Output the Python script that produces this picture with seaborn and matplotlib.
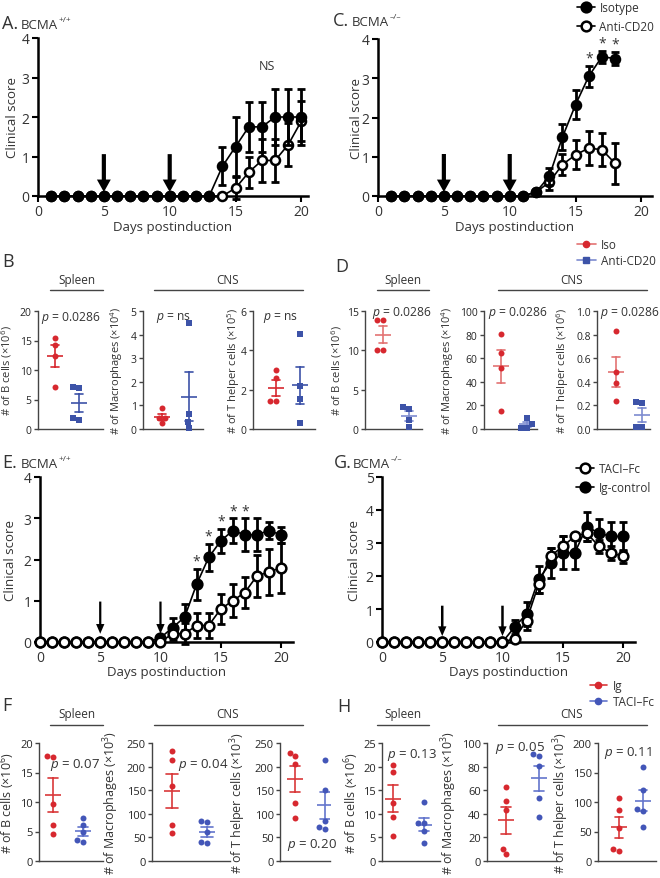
import numpy as np
import pandas as pd
import matplotlib

matplotlib.use("Agg")
import matplotlib.pyplot as plt
from matplotlib.lines import Line2D
import seaborn as sns

sns.set_theme(style="ticks")
plt.rcParams["font.family"] = ["Open Sans", "DejaVu Sans"]
plt.rcParams.update({
    "mathtext.fontset": "custom",
    "mathtext.rm": "Open Sans",
    "mathtext.it": "Open Sans:italic",
    "mathtext.bf": "Open Sans:bold",
    "text.color": "#333333",
    "axes.labelcolor": "#333333",
})

# ---- clinical score time courses ----
injection_days = [5, 10]

days_a = [1, 2, 3, 4, 5, 6, 7, 8, 9, 10, 11, 12, 13, 14, 15, 16, 17, 18, 19, 20]
a_iso = [0, 0, 0, 0, 0, 0, 0, 0, 0, 0, 0, 0, 0, 0.75, 1.25, 1.75, 1.75, 2.0, 2.0, 2.0]
a_iso_sem = [0, 0, 0, 0, 0, 0, 0, 0, 0, 0, 0, 0, 0, 0.48, 0.75, 0.63, 0.63, 0.7, 0.7, 0.7]
a_cd20 = [0, 0, 0, 0, 0, 0, 0, 0, 0, 0, 0, 0, 0, 0, 0.2, 0.6, 0.9, 0.9, 1.3, 1.9]
a_cd20_sem = [0, 0, 0, 0, 0, 0, 0, 0, 0, 0, 0, 0, 0, 0, 0.27, 0.4, 0.55, 0.55, 0.55, 0.5]

days_c = [1, 2, 3, 4, 5, 6, 7, 8, 9, 10, 11, 12, 13, 14, 15, 16, 17, 18]
c_iso = [0, 0, 0, 0, 0, 0, 0, 0, 0, 0, 0, 0.1, 0.5, 1.5, 2.33, 3.05, 3.55, 3.5]
c_iso_sem = [0, 0, 0, 0, 0, 0, 0, 0, 0, 0, 0, 0.05, 0.22, 0.33, 0.38, 0.27, 0.15, 0.17]
c_cd20 = [0, 0, 0, 0, 0, 0, 0, 0, 0, 0, 0, 0.1, 0.35, 0.8, 1.05, 1.22, 1.18, 0.83]
c_cd20_sem = [0, 0, 0, 0, 0, 0, 0, 0, 0, 0, 0, 0.05, 0.2, 0.27, 0.37, 0.43, 0.42, 0.53]
c_star_days = [16, 17, 18]

days_e = [0, 1, 2, 3, 4, 5, 6, 7, 8, 9, 10, 11, 12, 13, 14, 15, 16, 17, 18, 19, 20]
e_ig = [0, 0, 0, 0, 0, 0, 0, 0, 0, 0, 0.1, 0.35, 0.6, 1.4, 2.05, 2.45, 2.7, 2.6, 2.6, 2.7, 2.6]
e_ig_sem = [0, 0, 0, 0, 0, 0, 0, 0, 0, 0, 0.05, 0.22, 0.32, 0.38, 0.33, 0.3, 0.3, 0.4, 0.4, 0.2, 0.2]
e_taci = [0, 0, 0, 0, 0, 0, 0, 0, 0, 0, 0, 0.2, 0.2, 0.4, 0.4, 0.8, 1.0, 1.2, 1.6, 1.7, 1.8]
e_taci_sem = [0, 0, 0, 0, 0, 0, 0, 0, 0, 0, 0, 0.15, 0.25, 0.3, 0.3, 0.36, 0.4, 0.38, 0.5, 0.55, 0.6]
e_star_days = [13, 14, 15, 16, 17]

days_g = [0, 1, 2, 3, 4, 5, 6, 7, 8, 9, 10, 11, 12, 13, 14, 15, 16, 17, 18, 19, 20]
g_ig = [0, 0, 0, 0, 0, 0, 0, 0, 0, 0, 0, 0.45, 0.85, 1.9, 2.4, 2.7, 2.7, 3.5, 3.3, 3.2, 3.2]
g_ig_sem = [0, 0, 0, 0, 0, 0, 0, 0, 0, 0, 0, 0.22, 0.35, 0.4, 0.45, 0.5, 0.5, 0.45, 0.42, 0.45, 0.45]
g_taci = [0, 0, 0, 0, 0, 0, 0, 0, 0, 0, 0, 0.1, 0.65, 1.75, 2.6, 2.9, 3.2, 3.3, 2.9, 2.7, 2.6]
g_taci_sem = [0, 0, 0, 0, 0, 0, 0, 0, 0, 0, 0, 0.05, 0.3, 0.25, 0.25, 0.3, 0.1, 0.25, 0.2, 0.2, 0.2]

# ---- cell counts ----
groups_bd = ["Iso", "Anti-CD20"]
b_bcell_iso = [15.5, 14.3, 12.4, 7.2]
b_bcell_cd20 = [7.0, 7.1, 1.6, 1.8]
b_mac_iso = [0.88, 0.45, 0.45, 0.24]
b_mac_cd20 = [4.5, 0.65, 0.3, 0.05]
b_th_iso = [3.0, 2.58, 1.4, 1.4]
b_th_cd20 = [4.84, 2.2, 1.52, 0.3]

d_bcell_iso = [13.9, 13.9, 10.1, 10.1]
d_bcell_cd20 = [2.6, 2.75, 1.1, 0.2]
d_mac_iso = [80.5, 64.5, 52, 15]
d_mac_cd20 = [9.0, 4.5, 1.2, 1.0]
d_th_iso = [0.83, 0.48, 0.39, 0.24]
d_th_cd20 = [0.22, 0.23, 0.02, 0.02]

groups_fh = ["Ig", "TACI–Fc"]
f_bcell_ig = [17.85, 17.7, 9.6, 6.1, 4.65]
f_bcell_taci = [7.25, 6.06, 5.0, 3.2, 3.5]
f_mac_ig = [233.7, 213.9, 159, 76, 59]
f_mac_taci = [85, 82, 62, 38, 40]
f_th_ig = [229, 222, 205, 122, 92]
f_th_taci = [215, 150, 85, 72, 68]

h_bcell_ig = [20.3, 18.8, 12.2, 9.4, 5.3]
h_bcell_taci = [12.4, 8.0, 8.0, 6.4, 3.75]
h_mac_ig = [62.3, 51, 43, 9.9, 5.7]
h_mac_taci = [90.7, 89.2, 80.7, 53, 37.7]
h_th_ig = [106, 86, 56.7, 19.8, 17]
h_th_taci = [160, 120, 88, 84, 58]

RED = "#d7282f"
BLUE = "#3d53a8"
BLUE_DOT = "#4356b8"
GRAY = "#444444"

W, H = 660, 879
fig = plt.figure(figsize=(W / 100, H / 100), dpi=100)


def px_axes(l, t, r, b):
    return fig.add_axes([l / W, 1 - b / H, (r - l) / W, (b - t) / H])


def ftext(x, y, s, **kw):
    return fig.text(x / W, 1 - y / H, s, **kw)


def hline(x0, x1, y):
    fig.add_artist(Line2D([x0 / W, x1 / W], [1 - y / H, 1 - y / H], color=GRAY, lw=1))


def panel_title(ax, x, y, letter, sup):
    ftext(x, y, letter, fontsize=13, va="baseline")
    t = ftext(x + 19, y, "BCMA", fontsize=9.5, va="baseline")
    ax.annotate(sup, xy=(1.02, 0.6), xycoords=t, fontsize=6, va="bottom",
                ha="left", annotation_clip=False)


def course(box, days, filled, filled_sem, hollow, hollow_sem, ymax, stars,
           arrow, hollow_on_top, ms, label_px):
    l, t, r, b, xmax = box
    ax = px_axes(l, t, r, b)
    z_fill, z_hollow = (3, 4) if hollow_on_top else (4, 3)
    for mean, sem, face, z in [(filled, filled_sem, "black", z_fill),
                               (hollow, hollow_sem, "white", z_hollow)]:
        df = pd.DataFrame({"day": days, "score": mean, "sem": sem})
        sns.lineplot(data=df, x="day", y="score", color="black", linewidth=1.2,
                     marker="o", markersize=ms, markerfacecolor=face,
                     markeredgecolor="black", markeredgewidth=1.8, zorder=z,
                     clip_on=False, ax=ax)
        bars = df[df["sem"] > 0]
        ax.errorbar(bars["day"], bars["score"], yerr=bars["sem"], fmt="none",
                    ecolor="black", elinewidth=2, capsize=3, capthick=2,
                    zorder=z - 0.5, clip_on=False)
    top, tip, w, hw, hl = arrow
    for d in injection_days:
        ax.annotate("", xy=(d, tip), xytext=(d, top),
                    arrowprops=dict(facecolor="black", edgecolor="black", width=w,
                                    headwidth=hw, headlength=hl, shrink=0, lw=0))
    for d in stars:
        i = days.index(d)
        ax.text(d, filled[i] + filled_sem[i] + 0.0, "*", ha="center",
                va="bottom", fontsize=10)
    ax.set_xlim(0, xmax)
    ax.set_ylim(0, ymax)
    ax.set_xticks([0, 5, 10, 15, 20])
    ax.set_yticks(range(ymax + 1))
    sns.despine(ax=ax)
    for s in ("left", "bottom"):
        ax.spines[s].set_linewidth(1.8)
        ax.spines[s].set_color("black")
    ax.tick_params(width=1.5, length=4, labelsize=10, labelcolor="#333333",
                   color="black", pad=2)
    ax.set_xlabel("Days postinduction", fontsize=9.5)
    ax.set_ylabel("Clinical score", fontsize=9.5)
    ax.xaxis.set_label_coords(0.5, -(label_px[1] - b) / (b - t))
    ax.yaxis.set_label_coords((label_px[0] - l) / (r - l), 0.5)
    return ax


def dots(box, tb, v1, v2, names, dot_colors, line_colors, markers, ymax, ystep,
         ylabel, ptext, ppos, label_x, fs):
    l, r, red_px, blue_px = box
    t, b = tb
    tick_fs, lab_fs, p_fs = fs
    ax = px_axes(l, t, r, b)
    df = pd.DataFrame({"group": [names[0]] * len(v1) + [names[1]] * len(v2),
                       "value": list(v1) + list(v2)})
    sns.pointplot(data=df, x="group", y="value", hue="group", order=names,
                  hue_order=names, palette=line_colors, errorbar="se",
                  capsize=0.32, markers="_", linestyles="none", markersize=12,
                  markeredgewidth=1.2, err_kws={"linewidth": 1.2}, legend=False,
                  ax=ax)
    for name, col, mk in zip(names, dot_colors, markers):
        sns.swarmplot(data=df[df["group"] == name], x="group", y="value",
                      order=names, color=col, marker=mk, size=4.3, linewidth=0,
                      zorder=4, clip_on=False, ax=ax)
    unit = blue_px - red_px
    ax.set_xlim(-red_px / unit, (r - l - red_px) / unit)
    ax.set_ylim(0, ymax)
    ax.set_yticks(np.arange(0, ymax + ystep / 2, ystep))
    ax.set_xticks([])
    ax.set_xlabel("")
    sns.despine(ax=ax)
    for s in ("left", "bottom"):
        ax.spines[s].set_linewidth(1)
        ax.spines[s].set_color(GRAY)
    ax.tick_params(axis="y", length=3, width=1, color=GRAY, labelsize=tick_fs, pad=1.5)
    ax.set_ylabel(ylabel, fontsize=lab_fs)
    ax.yaxis.set_label_coords((label_x - l) / (r - l), 0.5)
    ax.text(ppos[0], ppos[1], ptext, transform=ax.transAxes, fontsize=p_fs,
            ha="left", va="center")
    return ax


# ---- A ----
ax_a = course((38, 39, 308, 197, 20.5), days_a, a_iso, a_iso_sem, a_cd20, a_cd20_sem,
              4, [], (1.06, 0.1, 3, 10, 9), False, 6.5, (19, 221))
ax_a.text(17.4, 3.3, "NS", ha="center", va="center", fontsize=9)
panel_title(ax_a, 2, 29, "A.", "+/+")

# ---- C ----
ax_c = course((378, 40, 652, 197, 20.8), days_c, c_iso, c_iso_sem, c_cd20, c_cd20_sem,
              4, c_star_days, (1.07, 0.1, 3, 10, 9), False, 6.5, (363, 221))
panel_title(ax_c, 333, 26, "C.", "–/–")
fig.legend(handles=[Line2D([], [], color="black", lw=1.2, marker="o", ms=7,
                           mfc="black", mec="black", mew=1.8),
                    Line2D([], [], color="black", lw=1.2, marker="o", ms=7,
                           mfc="white", mec="black", mew=1.8)],
           labels=["Isotype", "Anti-CD20"], loc="upper left",
           bbox_to_anchor=(577 / W, 1 - 2 / H), frameon=False, fontsize=8.5,
           handlelength=1.5, handletextpad=0.4, labelspacing=0.5, borderpad=0,
           borderaxespad=0)

# ---- E ----
ax_e = course((40, 478, 293, 643, 21), days_e, e_ig, e_ig_sem, e_taci, e_taci_sem,
              4, e_star_days, (0.98, 0.2, 1.6, 6, 7), True, 7, (17, 666))
panel_title(ax_e, 2, 468, "E.", "+/+")

# ---- G ----
ax_g = course((382, 478, 635, 643, 21), days_g, g_ig, g_ig_sem, g_taci, g_taci_sem,
              5, [], (1.1, 0.18, 1.8, 6, 7), True, 7, (361, 666))
panel_title(ax_g, 334, 468, "G.", "–/–")
fig.legend(handles=[Line2D([], [], color="black", lw=1.2, marker="o", ms=7,
                           mfc="white", mec="black", mew=1.8),
                    Line2D([], [], color="black", lw=1.2, marker="o", ms=7,
                           mfc="black", mec="black", mew=1.8)],
           labels=["TACI–Fc", "Ig-control"], loc="upper left",
           bbox_to_anchor=(576 / W, 1 - 463 / H), frameon=False, fontsize=8.5,
           handlelength=1.5, handletextpad=0.4, labelspacing=0.55, borderpad=0,
           borderaxespad=0)

# ---- B ----
row_bd = (312, 430)
bd_cols = [RED, BLUE]
bd_marks = ["o", "s"]
bd_fs = (7.5, 8, 8.7)
dots((38, 103, 17, 41), row_bd, b_bcell_iso, b_bcell_cd20, groups_bd, bd_cols, bd_cols,
     bd_marks, 20, 5, "# of B cells (×10$^{6}$)", "$p$ = 0.0286", (0.05, 0.95), 14, bd_fs)
dots((143, 203, 19, 46), row_bd, b_mac_iso, b_mac_cd20, groups_bd, bd_cols, bd_cols,
     bd_marks, 5, 1, "# of Macrophages (×10$^{4}$)", "$p$ = ns", (0.22, 0.95), 125, bd_fs)
dots((253, 315, 23, 47), row_bd, b_th_iso, b_th_cd20, groups_bd, bd_cols, bd_cols,
     bd_marks, 6, 2, "# of T helper cells (×10$^{5}$)", "$p$ = ns", (0.16, 0.95), 242,
     bd_fs)
ftext(2, 267, "B", fontsize=13, va="baseline")
ftext(77, 284, "Spleen", fontsize=8.5, ha="center", va="baseline")
ftext(228, 284, "CNS", fontsize=8.5, ha="center", va="baseline")
hline(50, 103, 291)
hline(154, 303, 291)

# ---- D ----
d_lines = ["#e37373", "#7d8bd0"]
dots((365, 422, 18, 44), row_bd, d_bcell_iso, d_bcell_cd20, groups_bd, bd_cols,
     d_lines, bd_marks, 15, 5, "# of B cells (×10$^{6}$)", "$p$ = 0.0286",
     (0.13, 0.99), 344, bd_fs)
dots((484, 537, 17, 43), row_bd, d_mac_iso, d_mac_cd20, groups_bd, bd_cols, d_lines,
     bd_marks, 100, 20, "# of Macrophages (×10$^{4}$)", "$p$ = 0.0286", (0.07, 0.99), 456,
     bd_fs)
dots((597, 650, 19, 45), row_bd, d_th_iso, d_th_cd20, groups_bd, bd_cols, d_lines,
     bd_marks, 1.0, 0.2, "# of T helper cells (×10$^{6}$)", "$p$ = 0.0286",
     (0.05, 0.99), 571, bd_fs)
ftext(335, 272, "D", fontsize=13, va="baseline")
ftext(403, 284, "Spleen", fontsize=8.5, ha="center", va="baseline")
ftext(572, 284, "CNS", fontsize=8.5, ha="center", va="baseline")
hline(377, 429, 291)
hline(498, 647, 291)
fig.legend(handles=[Line2D([], [], color=d_lines[0], lw=1.2, marker="o", ms=4.5,
                           mfc=RED, mec=RED),
                    Line2D([], [], color=d_lines[1], lw=1.2, marker="s", ms=4.5,
                           mfc=BLUE, mec=BLUE)],
           labels=groups_bd, loc="upper left", bbox_to_anchor=(577 / W, 1 - 239 / H),
           frameon=False, fontsize=8.5, handlelength=1.6, handletextpad=0.4,
           labelspacing=0.25, borderpad=0, borderaxespad=0)

# ---- F ----
row_fh = (744, 862)
fh_cols = [RED, BLUE_DOT]
fh_lines = ["#d9383a", "#6475cc"]
fh_marks = ["o", "o"]
fh_fs = (8, 9, 9.5)
dots((39, 103, 14, 44), row_fh, f_bcell_ig, f_bcell_taci, groups_fh, fh_cols, fh_lines,
     fh_marks, 20, 5, "# of B cells (×10$^{6}$)", "$p$ = 0.07", (0.17, 0.82), 17, fh_fs)
dots((152, 230, 20, 55), row_fh, f_mac_ig, f_mac_taci, groups_fh, fh_cols, fh_lines,
     fh_marks, 250, 50, "# of Macrophages (×10$^{3}$)", "$p$ = 0.04", (0.33, 0.82), 121,
     fh_fs)
dots((280, 330, 15, 45), row_fh, f_th_ig, f_th_taci, groups_fh, fh_cols, fh_lines,
     fh_marks, 250, 50, "# of T helper cells (×10$^{3}$)", "$p$ = 0.20", (0.14, 0.14), 248,
     fh_fs)
ftext(2, 711, "F", fontsize=13, va="baseline")
ftext(77, 718, "Spleen", fontsize=8.5, ha="center", va="baseline")
ftext(228, 718, "CNS", fontsize=8.5, ha="center", va="baseline")
hline(50, 103, 726)
hline(154, 303, 726)

# ---- H ----
dots((382, 440, 11, 42), row_fh, h_bcell_ig, h_bcell_taci, groups_fh, fh_cols, fh_lines,
     fh_marks, 25, 5, "# of B cells (×10$^{6}$)", "$p$ = 0.13", (0.09, 0.91), 361, fh_fs)
dots((487, 557, 19, 52), row_fh, h_mac_ig, h_mac_taci, groups_fh, fh_cols, fh_lines,
     fh_marks, 100, 20, "# of Macrophages (×10$^{3}$)", "$p$ = 0.05", (0.11, 0.97), 459,
     fh_fs)
dots((598, 656, 21, 45), row_fh, h_th_ig, h_th_taci, groups_fh, fh_cols, fh_lines,
     fh_marks, 200, 50, "# of T helper cells (×10$^{3}$)", "$p$ = 0.11", (0.11, 0.92), 571,
     fh_fs)
ftext(337, 712, "H", fontsize=13, va="baseline")
ftext(403, 718, "Spleen", fontsize=8.5, ha="center", va="baseline")
ftext(572, 718, "CNS", fontsize=8.5, ha="center", va="baseline")
hline(377, 429, 726)
hline(498, 647, 726)
fig.legend(handles=[Line2D([], [], color=fh_lines[0], lw=1.2, marker="o", ms=4.5,
                           mfc=RED, mec=RED),
                    Line2D([], [], color=fh_lines[1], lw=1.2, marker="o", ms=4.5,
                           mfc=BLUE_DOT, mec=BLUE_DOT)],
           labels=groups_fh, loc="upper left", bbox_to_anchor=(590 / W, 1 - 680 / H),
           frameon=False, fontsize=8.5, handlelength=1.4, handletextpad=0.5,
           labelspacing=0.25, borderpad=0, borderaxespad=0)

fig.savefig("out.png", dpi=100)
